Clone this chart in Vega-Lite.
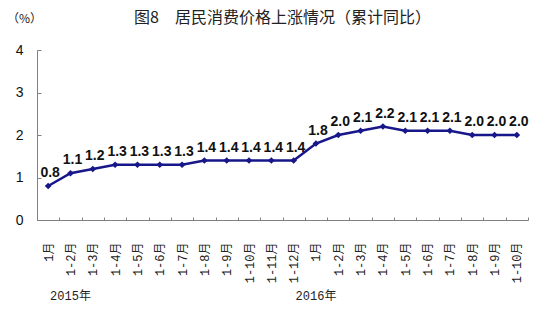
{
  "$schema": "https://vega.github.io/schema/vega-lite/v6.json",
  "width": 491,
  "height": 170,
  "autosize": {"type": "none"},
  "padding": {"left": 37, "top": 50, "right": 9, "bottom": 93},
  "background": "white",
  "title": {
    "text": "图8　居民消费价格上涨情况（累计同比）",
    "font": "Noto Sans CJK SC",
    "fontSize": 16,
    "fontWeight": "normal",
    "color": "#222222",
    "anchor": "middle",
    "frame": "group",
    "offset": -14
  },
  "config": {"view": {"stroke": null}},
  "data": {
    "values": [
      {"period": "2015年1月", "cpi": 0.8},
      {"period": "2015年1-2月", "cpi": 1.1},
      {"period": "2015年1-3月", "cpi": 1.2},
      {"period": "2015年1-4月", "cpi": 1.3},
      {"period": "2015年1-5月", "cpi": 1.3},
      {"period": "2015年1-6月", "cpi": 1.3},
      {"period": "2015年1-7月", "cpi": 1.3},
      {"period": "2015年1-8月", "cpi": 1.4},
      {"period": "2015年1-9月", "cpi": 1.4},
      {"period": "2015年1-10月", "cpi": 1.4},
      {"period": "2015年1-11月", "cpi": 1.4},
      {"period": "2015年1-12月", "cpi": 1.4},
      {"period": "2016年1月", "cpi": 1.8},
      {"period": "2016年1-2月", "cpi": 2.0},
      {"period": "2016年1-3月", "cpi": 2.1},
      {"period": "2016年1-4月", "cpi": 2.2},
      {"period": "2016年1-5月", "cpi": 2.1},
      {"period": "2016年1-6月", "cpi": 2.1},
      {"period": "2016年1-7月", "cpi": 2.1},
      {"period": "2016年1-8月", "cpi": 2.0},
      {"period": "2016年1-9月", "cpi": 2.0},
      {"period": "2016年1-10月", "cpi": 2.0}
    ]
  },
  "layer": [
    {
      "mark": {
        "type": "line",
        "color": "#17178a",
        "strokeWidth": 2.5,
        "point": {"shape": "diamond", "size": 45, "filled": true, "color": "#17178a"}
      },
      "encoding": {
        "x": {
          "field": "period",
          "type": "nominal",
          "sort": null,
          "bandPosition": 0.5,
          "scale": {"type": "band", "paddingInner": 0, "paddingOuter": 0},
          "axis": {
            "title": null,
            "orient": "bottom",
            "labelExpr": "indexof(datum.value + '', '年') > 0 ? substring(datum.value, 5) : ''",
            "labelAngle": -90,
            "labelFont": "Liberation Mono, Noto Sans CJK SC",
            "labelFontSize": 12,
            "labelColor": "#222222",
            "labelPadding": 25,
            "labelOverlap": false,
            "tickBand": "extent",
            "tickSize": -3,
            "tickColor": "#808080",
            "domainColor": "#808080",
            "grid": false
          }
        },
        "y": {
          "field": "cpi",
          "type": "quantitative",
          "scale": {"domain": [0, 4]},
          "axis": {
            "values": [0, 1, 2, 3, 4],
            "grid": false,
            "tickSize": -4,
            "tickColor": "#808080",
            "domainColor": "#808080",
            "labelFont": "Liberation Sans",
            "labelFontSize": 14,
            "labelColor": "#111111",
            "labelPadding": 18,
            "title": "（%）",
            "titleAngle": 0,
            "titleFont": "Noto Sans CJK SC",
            "titleFontSize": 12,
            "titleFontWeight": "normal",
            "titleColor": "#222222",
            "titleAlign": "center",
            "titleBaseline": "middle",
            "titleX": -13,
            "titleY": -32
          }
        }
      }
    },
    {
      "mark": {
        "type": "text",
        "font": "Liberation Sans",
        "fontSize": 14,
        "fontWeight": "bold",
        "color": "#111111",
        "baseline": "alphabetic",
        "dy": -9,
        "dx": 2
      },
      "encoding": {
        "x": {
          "field": "period",
          "type": "nominal",
          "sort": null,
          "bandPosition": 0.5,
          "axis": {
            "title": null,
            "orient": "bottom",
            "domain": false,
            "ticks": false,
            "labelAngle": 0,
            "labelExpr": "datum.value === '2015年1-2月' ? '2015年' : (datum.value === '2016年1月' ? '2016年' : '')",
            "labelFont": "Liberation Mono, Noto Sans CJK SC",
            "labelFontSize": 12,
            "labelColor": "#222222",
            "labelOverlap": false,
            "labelPadding": 0,
            "labelBaseline": "top",
            "offset": 70,
            "grid": false
          }
        },
        "y": {"field": "cpi", "type": "quantitative"},
        "text": {"field": "cpi", "type": "quantitative", "format": ".1f"}
      }
    }
  ],
  "resolve": {"axis": {"x": "independent", "y": "shared"}}
}
